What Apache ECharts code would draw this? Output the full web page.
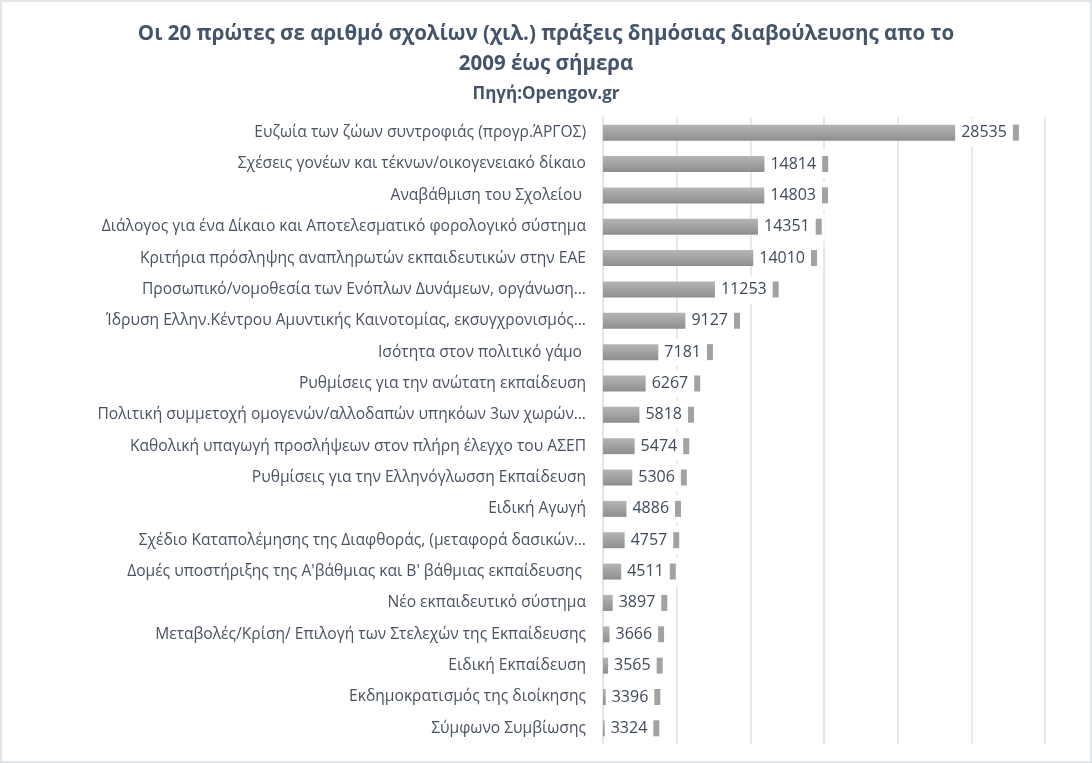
<!DOCTYPE html>
<html>
<head>
<meta charset="utf-8">
<script src="https://cdn.jsdelivr.net/npm/echarts@6/dist/echarts.min.js"></script>
<style>
  html, body { margin: 0; padding: 0; background: #ffffff; }
  #chart { width: 1092px; height: 763px; box-sizing: border-box; border: 2px solid #e1e4e9; }
</style>
</head>
<body>
<div id="chart"></div>
<script>
const categories = [
  'Ευζωία των ζώων συντροφιάς (προγρ.ΆΡΓΟΣ)',
  'Σχέσεις γονέων και τέκνων/οικογενειακό δίκαιο',
  'Αναβάθμιση του Σχολείου ',
  'Διάλογος για ένα Δίκαιο και Αποτελεσματικό φορολογικό σύστημα',
  'Κριτήρια πρόσληψης αναπληρωτών εκπαιδευτικών στην ΕΑΕ',
  'Προσωπικό/νομοθεσία των Ενόπλων Δυνάμεων, οργάνωση…',
  'Ίδρυση Ελλην.Κέντρου Αμυντικής Καινοτομίας, εκσυγχρονισμός…',
  'Ισότητα στον πολιτικό γάμο ',
  'Ρυθμίσεις για την ανώτατη εκπαίδευση',
  'Πολιτική συμμετοχή ομογενών/αλλοδαπών υπηκόων 3ων χωρών…',
  'Καθολική υπαγωγή προσλήψεων στον πλήρη έλεγχο του ΑΣΕΠ',
  'Ρυθμίσεις για την Ελληνόγλωσση Εκπαίδευση',
  'Ειδική Αγωγή',
  'Σχέδιο Καταπολέμησης της Διαφθοράς, (μεταφορά δασικών…',
  'Δομές υποστήριξης της Α\'βάθμιας και Β\' βάθμιας εκπαίδευσης ',
  'Νέο εκπαιδευτικό σύστημα',
  'Μεταβολές/Κρίση/ Επιλογή των Στελεχών της Εκπαίδευσης',
  'Ειδική Εκπαίδευση',
  'Εκδημοκρατισμός της διοίκησης',
  'Σύμφωνο Συμβίωσης'
];
const comments = [28535, 14814, 14803, 14351, 14010, 11253, 9127, 7181, 6267, 5818,
                  5474, 5306, 4886, 4757, 4511, 3897, 3666, 3565, 3396, 3324];
const titleText = 'Οι 20 πρώτες σε αριθμό σχολίων (χιλ.) πράξεις δημόσιας διαβούλευσης απο το\n2009 έως σήμερα';
const subtitleText = 'Πηγή:Opengov.gr';

const FONT = '"Open Sans", "Noto Sans", sans-serif';
const chart = echarts.init(document.getElementById('chart'));
chart.setOption({
  animation: false,
  backgroundColor: '#ffffff',
  title: {
    text: titleText,
    subtext: subtitleText,
    left: 'center',
    top: 12,
    itemGap: 7,
    textStyle: { fontFamily: FONT, fontSize: 20.5, fontWeight: 'bold', color: '#44546a', lineHeight: 30 },
    subtextStyle: { fontFamily: FONT, fontSize: 17, fontWeight: 'bold', color: '#44546a' }
  },
  grid: { left: 601, right: 45, top: 115, bottom: 17, containLabel: false },
  xAxis: [
    { type: 'value', min: 3200, max: 35000, show: false, splitLine: { show: false } },
    { type: 'value', min: 0, max: 6, interval: 1, position: 'top',
      axisLine: { show: false }, axisTick: { show: false }, axisLabel: { show: false },
      splitLine: { show: true, lineStyle: { color: '#dfe2e7', width: 1.5 } } }
  ],
  yAxis: {
    type: 'category',
    inverse: true,
    data: categories,
    axisTick: { show: false },
    axisLine: { show: true, lineStyle: { color: '#dfe2e7', width: 1.5 } },
    axisLabel: { fontFamily: FONT, fontSize: 15.6, color: '#4a5262', margin: 17 }
  },
  series: [{
    type: 'bar',
    xAxisIndex: 0,
    data: comments,
    barWidth: 16,
    barMinHeight: 4,
    itemStyle: {
      color: new echarts.graphic.LinearGradient(0, 0, 0, 1, [
        { offset: 0, color: '#b5b5b5' },
        { offset: 1, color: '#8e8e8e' }
      ])
    },
    label: {
      show: true,
      position: 'right',
      distance: 3,
      backgroundColor: '#ffffff',
      padding: [4, 3, 4, 3],
      formatter: p => '{v|' + p.value + '}{sp|}{g|}',
      rich: {
        v: { fontFamily: FONT, fontSize: 16, color: '#404a5a', verticalAlign: 'middle', lineHeight: 20 },
        sp: { width: 6, height: 16, verticalAlign: 'middle' },
        g: { width: 6, height: 16, backgroundColor: '#a2a2a2', verticalAlign: 'middle' }
      }
    }
  }]
});
</script>
</body>
</html>
